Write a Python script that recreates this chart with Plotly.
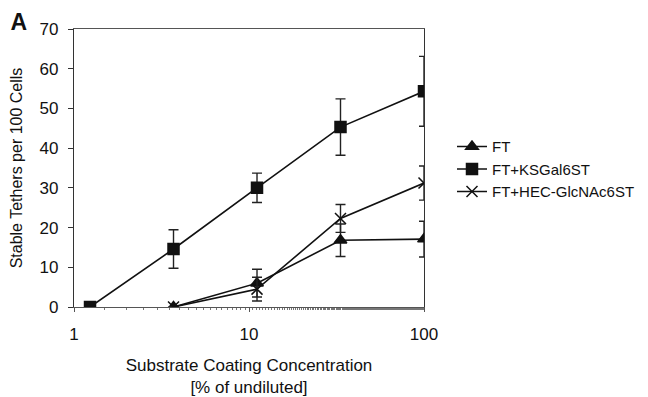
import plotly.graph_objects as go

# Data
conc_ks = [100/81, 100/27, 100/9, 100/3, 100]
ks_vals = [0, 14.6, 30.0, 45.3, 54.3]
ks_err = [0, 4.85, 3.7, 7.1, 8.8]

conc_ft = [100/27, 100/9, 100/3, 100]
ft_vals = [0, 6.0, 16.8, 17.1]
ft_err = [0, 3.5, 4.1, 4.5]

conc_hec = [100/27, 100/9, 100/3, 100]
hec_vals = [0, 4.5, 22.3, 31.2]
hec_err = [0, 3.0, 3.5, 4.3]

y_ticks = [0, 10, 20, 30, 40, 50, 60, 70]
x_ticks = [1, 10, 100]

font_family = "Liberation Sans, Arial, sans-serif"
black = "#111111"

fig = go.Figure()

def add_series(x, y, err, name, symbol, size):
    fig.add_trace(go.Scatter(
        x=x, y=y, name=name, mode="lines+markers",
        line=dict(color=black, width=1.6),
        marker=dict(symbol=symbol, size=size, color=black,
                    line=dict(color=black, width=1.5)),
        error_y=dict(type="data", array=err, visible=True,
                     color="#222222", thickness=1.4, width=5),
    ))

add_series(conc_ft, ft_vals, ft_err, "FT", "triangle-up", 11)
add_series(conc_ks, ks_vals, ks_err, "FT+KSGal6ST", "square", 11)
add_series(conc_hec, hec_vals, hec_err, "FT+HEC-GlcNAc6ST", "x-thin", 11)

# The page body adds an 8px offset, so the figure is sized 640x389.
fig.update_layout(
    width=640, height=389,
    margin=dict(l=66, r=224, t=21, b=90, autoexpand=False),
    paper_bgcolor="white", plot_bgcolor="white",
    font=dict(family=font_family, color=black, size=13),
    showlegend=True,
    legend=dict(x=1.08, y=0.636, xanchor="left", yanchor="top",
                bgcolor="rgba(0,0,0,0)", font=dict(size=15, color=black),
                tracegroupgap=0, itemwidth=30),
    title=dict(text="<b>A</b>", x=0.004, y=0.985, xref="container",
               yref="container", xanchor="left", yanchor="top",
               font=dict(size=23, color=black)),
)

fig.update_xaxes(
    type="log", range=[0, 2],
    tickvals=x_ticks, ticktext=[str(v) for v in x_ticks],
    ticks="outside", ticklen=4, tickcolor="#555555",
    ticklabelstandoff=7,
    minor=dict(ticks="outside", ticklen=2, tickcolor="#777777", showgrid=False),
    showgrid=False, zeroline=False,
    showline=True, linecolor="#555555", linewidth=1.2, mirror=True,
    tickfont=dict(size=17, color=black),
    title=dict(text="Substrate Coating Concentration<br>[% of undiluted]",
               font=dict(size=17, color=black), standoff=17),
)
fig.update_yaxes(
    range=[0, 70], tickvals=y_ticks,
    ticks="outside", ticklen=5, tickcolor="#333333",
    ticklabelstandoff=6,
    showgrid=False, zeroline=False,
    showline=True, linecolor="#333333", linewidth=1.2, mirror=True,
    tickfont=dict(size=17, color=black),
    title=dict(text="Stable Tethers per 100 Cells",
               font=dict(size=16, color=black), standoff=12),
)

fig.write_html("out.html")
